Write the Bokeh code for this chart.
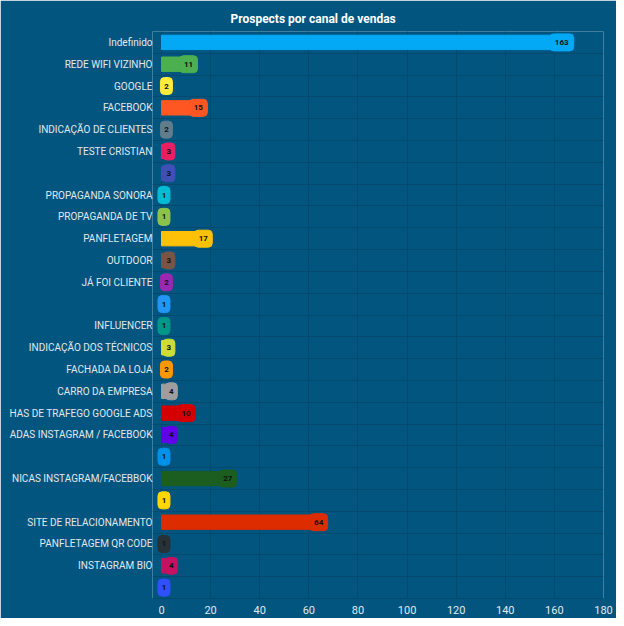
from bokeh.plotting import figure
from bokeh.models import FixedTicker, ColumnDataSource, Range1d
from bokeh.core.properties import value
from bokeh.embed import file_html
from bokeh.resources import INLINE

title_text = "Prospects por canal de vendas"

labels = [
    "Indefinido", "REDE WIFI VIZINHO", "GOOGLE", "FACEBOOK", "INDICAÇÃO DE CLIENTES",
    "TESTE CRISTIAN", "", "PROPAGANDA SONORA", "PROPAGANDA DE TV", "PANFLETAGEM",
    "OUTDOOR", "JÁ FOI CLIENTE", "", "INFLUENCER", "INDICAÇÃO DOS TÉCNICOS",
    "FACHADA DA LOJA", "CARRO DA EMPRESA", "HAS DE TRAFEGO GOOGLE ADS",
    "ADAS INSTAGRAM / FACEBOOK", "", "NICAS INSTAGRAM/FACEBBOK", "",
    "SITE DE RELACIONAMENTO", "PANFLETAGEM QR CODE", "INSTAGRAM BIO", "",
]

counts = [163, 11, 2, 15, 2, 3, 3, 1, 1, 17, 3, 2, 1, 1, 3, 2, 4, 10, 4, 1, 27, 1, 64, 1, 4, 1]

colors = [
    "#03a9f4", "#4caf50", "#ffeb3b", "#ff5722", "#607d8b",
    "#e91e63", "#3f51b5", "#00bcd4", "#8bc34a", "#ffc107",
    "#795548", "#9c27b0", "#2196f3", "#009688", "#cddc39",
    "#ff9800", "#9e9e9e", "#d50000", "#6200ea", "#0091ea",
    "#1b5e20", "#ffd600", "#dd2c00", "#263238", "#c51162", "#304ffe",
]

x_ticks = [0, 20, 40, 60, 80, 100, 120, 140, 160, 180]

BG = "#01557f"
GRID = "#034a6e"
TXT = "#e3e8ec"

n = len(labels)
ys = list(range(n))

src = ColumnDataSource(dict(
    y=ys, v=counts, color=colors,
    t=[str(c) for c in counts],
    pw=[6 + 6 * len(str(c)) for c in counts],
))

p = figure(
    width=616, height=618, output_backend="svg", toolbar_location=None,
    x_range=Range1d(-3.67, 180), y_range=Range1d(n - 0.5, -0.5),
    min_border_left=152, min_border_right=13, min_border_top=31, min_border_bottom=20,
    background_fill_color=BG, border_fill_color=BG, outline_line_color=None,
)

p.title.text = title_text
p.title.align = "left"
p.title.offset = 78
p.title.text_font = "Roboto"
p.title.text_font_size = "12px"
p.title.text_font_style = "bold"
p.title.text_color = "#ffffff"
p.title.standoff = 11

# y axis
p.yaxis.ticker = FixedTicker(ticks=ys)
p.yaxis.major_label_overrides = {i: lab for i, lab in enumerate(labels)}
p.yaxis.major_tick_line_color = None
p.yaxis.major_tick_out = 0
p.yaxis.major_tick_in = 0
p.yaxis.minor_tick_line_color = None
p.yaxis.axis_line_color = None
p.yaxis.major_label_standoff = 0
p.yaxis.major_label_text_font = "Roboto"
p.yaxis.major_label_text_font_size = "10px"
p.yaxis.major_label_text_color = TXT

# x axis
p.xaxis.ticker = FixedTicker(ticks=x_ticks)
p.xaxis.major_tick_line_color = None
p.xaxis.major_tick_out = 0
p.xaxis.major_tick_in = 0
p.xaxis.minor_tick_line_color = None
p.xaxis.axis_line_color = GRID
p.xaxis.major_label_standoff = 7
p.xaxis.major_label_text_font = "Roboto"
p.xaxis.major_label_text_font_size = "11px"
p.xaxis.major_label_text_color = TXT

p.xgrid.ticker = FixedTicker(ticks=x_ticks)
p.xgrid.grid_line_color = GRID
p.ygrid.ticker = FixedTicker(ticks=[i + 0.5 for i in range(-1, n)])
p.ygrid.grid_line_color = GRID

p.hbar(y="y", left=0, right="v", height=0.66, color="color", source=src)
p.rect(x="v", y="y", width="pw", height=17, width_units="screen", height_units="screen",
       color="color", border_radius=4, source=src)
p.text(x="v", y="y", text="t", text_align="center", text_baseline="middle",
       text_font=value("Roboto"), text_font_size="8px", text_font_style="bold",
       text_color="#111111", source=src)

open("out.html", "w").write(file_html(p, INLINE))
